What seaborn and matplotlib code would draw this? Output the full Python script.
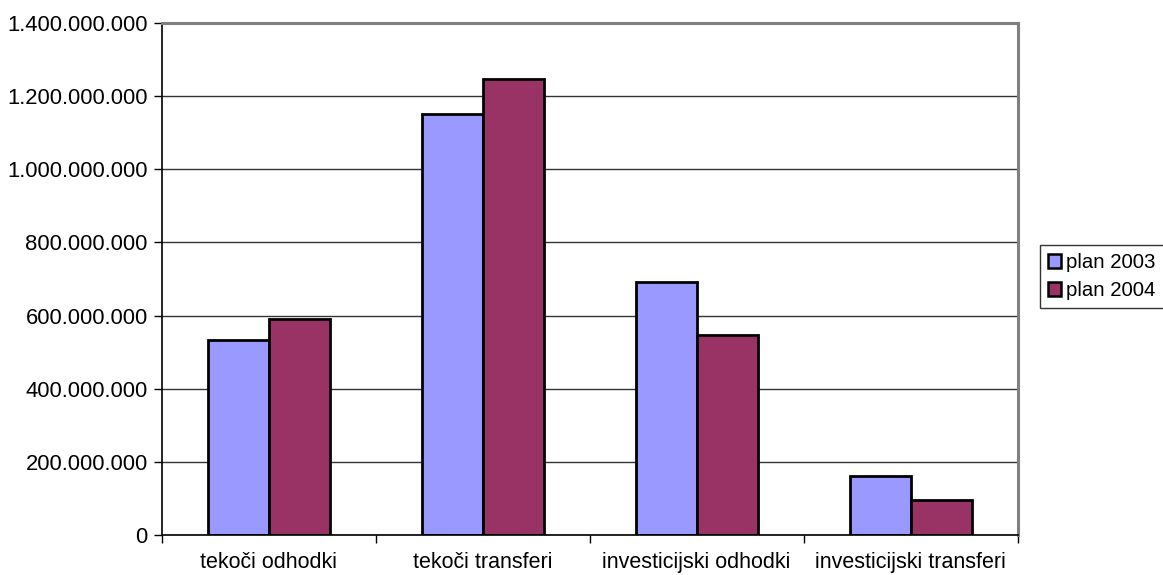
import pandas as pd
import seaborn as sns
import matplotlib.pyplot as plt
from matplotlib.ticker import FuncFormatter, FixedLocator
from matplotlib.patches import Patch

kategorije = ['tekoči odhodki', 'tekoči transferi', 'investicijski odhodki', 'investicijski transferi']
plan_2003 = [533000000, 1151000000, 692000000, 161000000]
plan_2004 = [590000000, 1248000000, 547000000, 96000000]
serije = ['plan 2003', 'plan 2004']
barve = ['#9999FF', '#993366']

df = pd.DataFrame({
    'kategorija': kategorije * 2,
    'znesek': plan_2003 + plan_2004,
    'plan': [serije[0]] * 4 + [serije[1]] * 4,
})

sns.set_style('white')
plt.rcParams['font.family'] = ['Liberation Sans', 'DejaVu Sans']
plt.rcParams['text.color'] = 'black'

fig = plt.figure(figsize=(11.63, 5.75), dpi=100)
ax = fig.add_axes([0.139, 0.0696, 0.736, 0.8904])

sns.barplot(data=df, x='kategorija', y='znesek', hue='plan', palette=barve, saturation=1,
            width=0.57, edgecolor='black', linewidth=2, ax=ax, legend=False)

ax.set_ylim(0, 1400000000)
ax.set_xlim(-0.5, 3.5)
ax.set_yticks(range(0, 1400000001, 200000000))
ax.yaxis.set_major_formatter(FuncFormatter(lambda v, p: f'{int(v):,}'.replace(',', '.')))
ax.yaxis.grid(True, color='#333333', linewidth=1)
ax.set_axisbelow(True)
ax.set_xlabel('')
ax.set_ylabel('')

ax.xaxis.set_minor_locator(FixedLocator([-0.5, 0.5, 1.5, 2.5, 3.5]))
ax.tick_params(axis='x', which='major', length=0, pad=12, labelsize=15.5, labelcolor='black')
ax.tick_params(axis='x', which='minor', length=6, width=1, color='black', direction='out', bottom=True)
ax.tick_params(axis='y', length=6, width=1, color='black', direction='out', left=True,
               labelsize=15.8, labelcolor='black', pad=4)

for s in ['left', 'bottom']:
    ax.spines[s].set_color('black')
    ax.spines[s].set_linewidth(1.2)
for s in ['top', 'right']:
    ax.spines[s].set_color('#808080')
    ax.spines[s].set_linewidth(2.2)

handles = [Patch(facecolor=c, edgecolor='black', linewidth=1.8, label=l) for c, l in zip(barve, serije)]
fig.legend(handles=handles, loc='upper left', bbox_to_anchor=(0.894, 0.574),
           frameon=True, fancybox=False, edgecolor='black', fontsize=14.7,
           handlelength=0.65, handleheight=0.65, handletextpad=0.25, borderpad=0.4,
           labelspacing=0.45, borderaxespad=0)

fig.savefig('out.png', dpi=100)
